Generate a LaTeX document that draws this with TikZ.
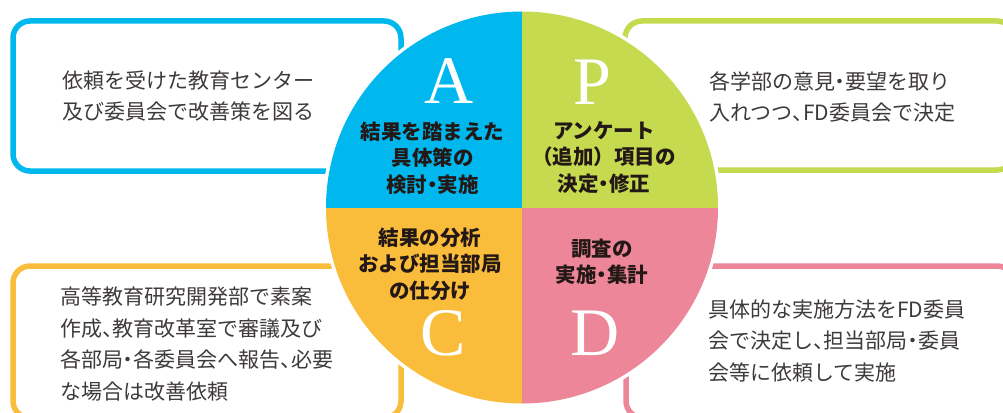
\documentclass[tikz,border=0pt]{standalone}
\usepackage{fontspec}
\newfontfamily\jp{Noto Sans CJK JP}
\newfontfamily\ltr{Liberation Serif}
\definecolor{cA}{HTML}{00B8EE}
\definecolor{cP}{HTML}{C6DA50}
\definecolor{cC}{HTML}{F9BD3B}
\definecolor{cD}{HTML}{EC8698}
\definecolor{ink}{HTML}{231815}
\definecolor{txtgray}{HTML}{3E3A39}
\newcommand\hdot{\makebox[0.5em][c]{・}}
\newcommand\hcom{\makebox[0.5em][l]{、}}
\tikzset{
  box/.style={line width=5.5pt, rounded corners=17pt, fill=white},
  boxtext/.style={font=\jp\fontsize{21}{31.5}\selectfont, text=txtgray, align=left, anchor=west, inner sep=0pt},
  segtext/.style={font=\jp\bfseries\fontsize{20.5}{26.5}\selectfont, text=ink, align=center, inner sep=0pt},
  letter/.style={font=\ltr\fontsize{68}{68}\selectfont, text=white, inner sep=0pt, anchor=base}
}
\begin{document}
\begin{tikzpicture}[x=1pt,y=-1pt]
\useasboundingbox (0,0) rectangle (1003,412);
\clip (0,0) rectangle (1003,412);
% boxes
\draw[box, draw=cA] (13,21) rectangle (401,171);
\draw[box, draw=cP] (625,21) rectangle (1014,170);
\draw[box, draw=cC] (13,266) rectangle (401,418);
\draw[box, draw=cD] (626,266) rectangle (1014,418);
% circle
\coordinate (c) at (522,207.5);
\fill[white] (c) circle[radius=199.5];
\begin{scope}
  \clip (c) circle[radius=196];
  \fill[cA] (0,0) rectangle (522,207.5);
  \fill[cP] (522,0) rectangle (1003,207.5);
  \fill[cC] (0,207.5) rectangle (522,412);
  \fill[cD] (522,207.5) rectangle (1003,412);
\end{scope}
% letters
\node[letter] (lA) at (449,103) {A};
\node[letter] (lP) at (592,104) {P};
\node[letter] (lC) at (443,355) {C};
\node[letter] (lD) at (595,355) {D};
% segment texts
\node[segtext] (sA) at (432.5,158) {結果を踏まえた\\具体策の\\検討\hdot 実施};
\node[segtext] (sP) at (604,157.5) {アンケート\\（追加）項目の\\決定\hdot 修正};
\node[segtext] (sC) at (430,264) {結果の分析\\および担当部局\\の仕分け};
\node[segtext] (sD) at (602,261.5) {調査の\\実施\hdot 集計};
% box texts
\node[boxtext] (tA) at (62,96) {依頼を受けた教育センター\\及び委員会で改善策を図る};
\node[boxtext] (tP) at (709,97) {各学部の意見\hdot 要望を取り\\入れつつ\hcom FD委員会で決定};
\node[boxtext] (tC) at (60,344) {高等教育研究開発部で素案\\作成\hcom 教育改革室で審議及び\\各部局\hdot 各委員会へ報告\hcom 必要\\な場合は改善依頼};
\node[boxtext] (tD) at (708,341) {具体的な実施方法をFD委員\\会で決定し\hcom 担当部局\hdot 委員\\会等に依頼して実施};
\end{tikzpicture}
\end{document}
